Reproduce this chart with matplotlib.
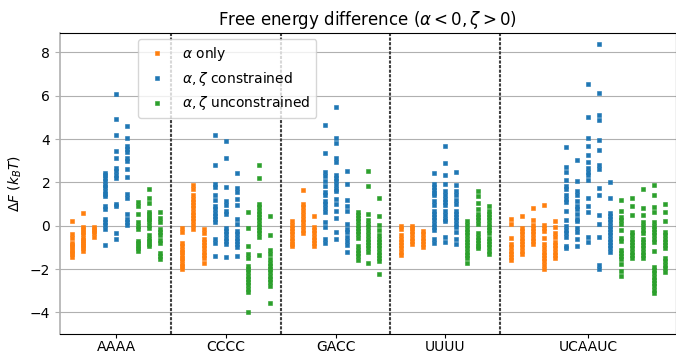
import numpy as np
import matplotlib.pyplot as plt

# Free energy differences (k_B T) per column
groups = ['AAAA', 'CCCC', 'GACC', 'UUUU', 'UCAAUC']

aaaa_alpha = [
    [0.23, -0.4, -0.55, -0.8, -0.9, -1.0, -1.1, -1.2, -1.3, -1.45],
    [0.6, -0.05, -0.15, -0.3, -0.4, -0.55, -0.65, -0.75, -0.85, -0.95, -1.05, -1.15],
    [-0.05, -0.15, -0.25, -0.35, -0.5],
]
aaaa_constr = [
    [2.45, 2.35, 2.2, 2.05, 1.9, 1.8, 1.6, 1.45, 1.35, 0.9, 0.75, 0.3, 0.15, 0.05, -0.15, -0.9],
    [6.1, 4.95, 4.2, 3.45, 3.15, 2.65, 2.55, 2.35, 2.2, 1.0, 0.9, -0.35, -0.6],
    [4.6, 4.05, 3.7, 3.55, 3.4, 3.15, 3.0, 2.6, 2.25, 1.45, 1.3, 0.55, 0.3, 0.15, 0.05],
]
aaaa_unconstr = [
    [1.1, 0.9, 0.55, 0.15, 0.0, -0.15, -0.7, -0.8, -0.95, -1.05, -1.15],
    [1.7, 1.3, 1.05, 0.65, 0.55, 0.4, 0.3, 0.2, 0.05, -0.1, -0.45, -0.6, -0.7, -0.85, -0.95],
    [0.65, 0.35, 0.15, -0.15, -0.3, -0.45, -0.65, -0.8, -1.25, -1.4, -1.55],
]

cccc_alpha = [
    [-0.1, -0.3, -0.8, -0.95, -1.1, -1.2, -1.35, -1.5, -1.6, -1.75, -1.85, -2.0],
    [1.9, 1.7, 1.4, 1.25, 1.1, 0.95, 0.8, 0.65, 0.5, 0.35, 0.2, 0.05, -0.15],
    [-0.15, -0.35, -0.6, -0.75, -0.9, -1.05, -1.2, -1.35, -1.5, -1.7],
]
cccc_constr = [
    [4.2, 2.8, 1.95, 1.8, 1.4, 1.2, 0.9, 0.75, 0.6, 0.45, 0.3, 0.15, -0.6, -0.8, -1.4],
    [3.9, 3.15, 1.8, 1.15, 0.95, 0.7, 0.55, -0.1, -0.25, -0.4, -0.55, -0.7, -0.85, -1.45],
    [2.45, 1.75, 1.55, 1.25, 0.95, 0.3, 0.1, -0.25, -0.4, -0.55, -0.7, -0.85, -1.0, -1.4],
]
cccc_unconstr = [
    [0.65, -0.1, -0.95, -1.3, -1.5, -1.85, -2.0, -2.15, -2.3, -2.45, -2.6, -2.75, -2.9, -3.05, -4.0],
    [2.8, 2.2, 1.0, 0.85, 0.7, 0.55, 0.4, 0.25, 0.1, -0.05, -0.2, -0.35, -0.5, -1.35],
    [0.45, -0.45, -1.1, -1.3, -1.55, -1.7, -1.85, -2.0, -2.15, -2.3, -2.45, -2.6, -2.8, -3.55],
]

gacc_alpha = [
    [0.2, 0.05, -0.1, -0.25, -0.4, -0.55, -0.7, -0.85, -0.95],
    [1.65, 1.0, 0.85, 0.7, 0.5, 0.3, 0.15, 0.0, -0.2, -0.35],
    [0.45, -0.05, -0.2, -0.35, -0.5, -0.65, -0.8, -0.95],
]
gacc_constr = [
    [4.65, 3.35, 2.5, 2.3, 2.05, 1.85, 1.55, 1.4, 1.15, 1.0, 0.8, 0.65, 0.15, -0.05, -0.6, -0.8],
    [5.5, 4.05, 3.8, 3.15, 2.95, 2.35, 2.2, 2.05, 1.9, 1.7, 1.6, 1.25, 1.0, 0.7, 0.35, -0.3, -0.6],
    [2.55, 1.95, 1.2, 0.9, 0.7, 0.1, -0.15, -0.3, -0.5, -0.7, -0.9, -1.2],
]
gacc_unconstr = [
    [0.65, 0.5, 0.35, 0.2, 0.05, -0.1, -0.25, -0.4, -0.55, -0.95, -1.1, -1.25, -1.4, -1.6],
    [2.55, 1.85, 0.55, 0.25, 0.1, -0.05, -0.25, -0.45, -0.6, -0.75, -0.9, -1.05, -1.2, -1.7],
    [1.3, 0.45, 0.05, -0.2, -0.45, -0.6, -0.75, -0.9, -1.05, -1.2, -1.35, -1.5, -1.65, -2.25],
]

uuuu_alpha = [
    [0.0, -0.15, -0.45, -0.6, -0.75, -0.9, -1.05, -1.2, -1.35],
    [0.0, -0.1, -0.25, -0.4, -0.55, -0.7, -0.85],
    [-0.25, -0.4, -0.55, -0.7, -0.85, -1.0],
]
uuuu_constr = [
    [2.45, 1.95, 1.8, 1.65, 1.5, 1.4, 1.15, 0.95, 0.7, 0.55, 0.4, 0.25, 0.1, -0.05, -0.2, -0.6, -0.8],
    [3.7, 2.9, 2.35, 1.95, 1.6, 1.4, 1.25, 1.1, 0.95, 0.7, 0.5, 0.3, 0.2, -0.5, -0.75],
    [2.5, 1.9, 1.6, 1.4, 1.2, 1.0, 0.7, 0.55, 0.4, 0.25, 0.1, -0.05, -0.3, -0.6, -0.85],
]
uuuu_unconstr = [
    [0.2, 0.05, -0.15, -0.3, -0.45, -0.6, -0.75, -0.9, -1.05, -1.2, -1.35, -1.5, -1.7],
    [1.6, 1.35, 1.05, 0.75, 0.55, 0.4, 0.25, 0.1, -0.35, -0.5, -0.65, -0.8, -0.95, -1.05],
    [0.9, 0.7, 0.55, 0.4, 0.25, 0.1, -0.05, -0.2, -0.35, -0.55, -0.7, -0.85, -1.0, -1.15, -1.3],
]

ucaauc_alpha = [
    [0.3, 0.1, -0.55, -0.85, -1.0, -1.15, -1.3, -1.45, -1.6],
    [0.45, -0.1, -0.25, -0.4, -0.55, -0.7, -0.85, -1.0, -1.15, -1.3],
    [0.8, 0.25, 0.05, -0.1, -0.25, -0.4, -0.55, -0.7, -0.85],
    [0.95, 0.05, -0.1, -0.25, -0.55, -0.85, -1.05, -1.2, -1.35, -1.5, -1.65, -1.8, -2.0],
    [0.2, -0.05, -0.35, -0.5, -0.75, -0.9, -1.05, -1.2, -1.35, -1.5],
]
ucaauc_constr = [
    [3.65, 2.7, 2.5, 2.1, 1.85, 1.7, 1.4, 1.25, 1.1, 0.7, 0.25, 0.0, -0.2, -0.35, -0.5, -0.95, -1.05],
    [3.05, 2.05, 1.6, 1.4, 1.15, 0.9, 0.75, 0.55, 0.3, 0.2, -0.1, -0.3, -0.6, -0.95],
    [6.55, 5.0, 4.05, 3.7, 3.25, 2.95, 2.65, 2.5, 2.35, 2.1, 1.3, 0.9, 0.65, -0.5, -0.75],
    [8.4, 6.15, 5.1, 4.9, 3.95, 3.5, 2.8, 2.6, 1.75, 1.4, 0.5, 0.1, -0.5, -1.8, -2.0],
    [2.0, 1.3, 0.6, 0.45, 0.3, 0.15, 0.0, -0.15, -0.3, -0.45, -0.6, -0.75, -0.9, -1.05, -1.2],
]
ucaauc_unconstr = [
    [1.2, 0.7, 0.4, 0.25, 0.1, -0.2, -0.55, -0.7, -1.1, -1.25, -1.4, -1.55, -1.75, -2.1, -2.3],
    [1.3, 0.9, 0.5, -0.3, -0.45, -0.6, -0.75, -0.9, -1.05, -1.2, -1.35, -1.5],
    [1.7, 0.8, 0.5, 0.15, 0.0, -0.2, -0.35, -0.6, -0.75, -0.9, -1.05, -1.2, -1.35, -1.5],
    [1.9, 1.4, 0.85, 0.65, 0.15, 0.0, -0.15, -0.3, -0.45, -0.6, -0.75, -1.15,
     -1.9, -2.05, -2.2, -2.35, -2.5, -2.65, -2.8, -2.95, -3.1],
    [1.0, 0.65, 0.2, -0.3, -0.45, -0.6, -0.75, -0.9, -1.05, -1.5, -1.65, -1.8, -1.95, -2.15],
]

alpha_only = [aaaa_alpha, cccc_alpha, gacc_alpha, uuuu_alpha, ucaauc_alpha]
constrained = [aaaa_constr, cccc_constr, gacc_constr, uuuu_constr, ucaauc_constr]
unconstrained = [aaaa_unconstr, cccc_unconstr, gacc_unconstr, uuuu_unconstr, ucaauc_unconstr]

series = [
    (alpha_only, '#ff7f0e', r'$\alpha$ only'),
    (constrained, '#1f77b4', r'$\alpha, \zeta$ constrained'),
    (unconstrained, '#2ca02c', r'$\alpha, \zeta$ unconstrained'),
]

fig = plt.figure(figsize=(6.76, 3.56), dpi=100)
ax = fig.add_axes([0.0888, 0.0618, 0.911, 0.8455])

start = 0
centers = []
separators = []
for g in range(len(groups)):
    n = len(alpha_only[g])
    for s, (data, color, label) in enumerate(series):
        for k, vals in enumerate(data[g]):
            x = start + s * n + k
            ax.plot(np.full(len(vals), x), vals, 's', color=color, markersize=2.6,
                    markeredgewidth=0.4, markeredgecolor=color,
                    label=label if (g == 0 and k == 0) else None, zorder=3)
    centers.append(start + (3 * n - 1) / 2)
    if g < len(groups) - 1:
        separators.append(start + 3 * n)
    start += 3 * n + 1

for xs in separators:
    ax.axvline(xs, color='0.25', linewidth=1.5, linestyle=(0, (1.5, 0.7)), zorder=2)

ax.set_xticks(centers)
ax.set_xticklabels(groups, fontsize=10)
ax.tick_params(axis='x', length=3, pad=1.2)
ax.tick_params(axis='y', labelsize=10, color='#b0b0b0')
ax.spines['left'].set_color('#b0b0b0')
ax.spines['left'].set_linewidth(1.2)
ax.set_yticks([-4, -2, 0, 2, 4, 6, 8])
ax.set_xlim(-1.1, 55.0)
ax.set_ylim(-5, 8.9)
ax.yaxis.grid(True, color='#b0b0b0', linewidth=0.8)
ax.set_axisbelow(True)
ax.set_ylabel(r'$\Delta F\ (k_BT)$', fontsize=10)
ax.set_title(r'Free energy difference ($\alpha < 0, \zeta > 0$)', fontsize=12)
ax.legend(loc='upper left', bbox_to_anchor=(0.1266, 0.98), borderaxespad=0,
          fontsize=10, numpoints=1, framealpha=0.8)

fig.savefig('out.png', dpi=100)
